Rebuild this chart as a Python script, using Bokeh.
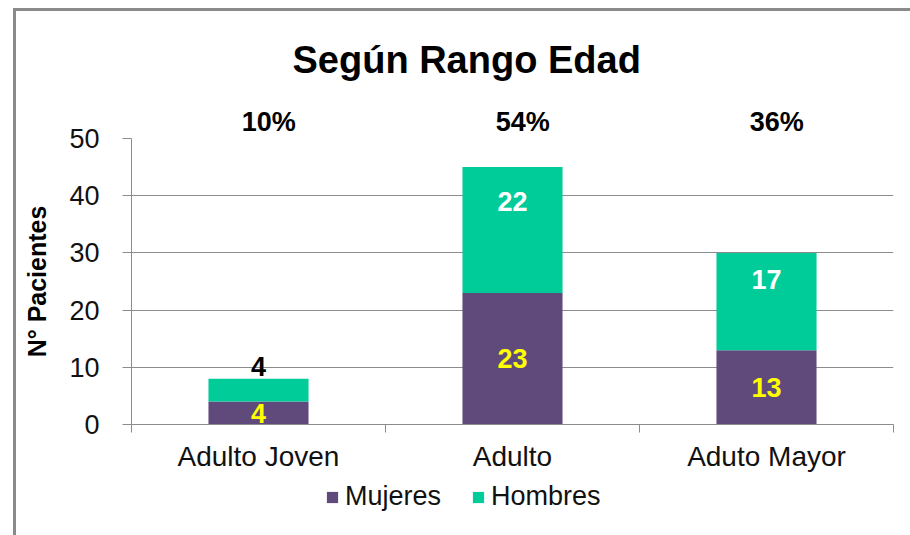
from bokeh.plotting import figure
from bokeh.layouts import column
from bokeh.models import Range1d, FixedTicker, Label, Legend, LegendItem, ColumnDataSource, LinearAxis
from bokeh.embed import file_html
from bokeh.resources import INLINE

# ---- data ----
categories = ["Adulto Joven", "Adulto", "Aduto Mayor"]
mujeres = [4, 23, 13]
hombres = [4, 22, 17]
series_names = ["Mujeres", "Hombres"]
y_ticks = [0, 10, 20, 30, 40, 50]
title_text = "Según Rango Edad"
y_label = "N° Pacientes"

PURPLE = "#604A7B"
GREEN = "#00CC99"
GRID = "#8C8C8C"
FONT = "Liberation Sans"

totals = [m + h for m, h in zip(mujeres, hombres)]
grand = sum(totals)
pct_labels = [f"{round(100 * t / grand)}%" for t in totals]
xs = [i + 0.5 for i in range(len(categories))]

src = ColumnDataSource(dict(x=xs, Mujeres=mujeres, Hombres=hombres))

p = figure(width=894, height=463, x_range=Range1d(0, len(categories)), y_range=Range1d(0, 50),
           output_backend="svg", toolbar_location=None,
           min_border_left=115, min_border_top=127, min_border_right=17, min_border_bottom=50)
p.outline_line_color = None
p.background_fill_color = "white"
p.border_fill_color = "white"

# title
p.title.text = title_text
p.title.align = "left"
p.title.offset = 161
p.title.text_font = FONT
p.title.text_font_size = "38px"
p.title.text_font_style = "bold"
p.title.text_color = "black"
p.title.standoff = 45

rs = p.vbar_stack(series_names, x="x", width=0.394, color=[PURPLE, GREEN], line_color=None, source=src)

# grid
p.xgrid.grid_line_color = None
p.ygrid.grid_line_color = GRID
p.ygrid.ticker = FixedTicker(ticks=y_ticks)

# y axis
ya = p.yaxis[0]
ya.ticker = FixedTicker(ticks=y_ticks)
ya.axis_line_color = GRID
ya.major_tick_line_color = GRID
ya.major_tick_out = 9
ya.major_tick_in = 0
ya.minor_tick_line_color = None
ya.major_label_standoff = 23
ya.major_label_text_font = FONT
ya.major_label_text_font_size = "27px"
ya.major_label_text_color = "#111111"
ya.axis_label = y_label
ya.axis_label_text_font = FONT
ya.axis_label_text_font_size = "25px"
ya.axis_label_text_font_style = "bold"
ya.axis_label_text_color = "black"
ya.axis_label_standoff = 15

# x axis
xa = p.xaxis[0]
xa.ticker = FixedTicker(ticks=xs, minor_ticks=list(range(len(categories) + 1)))
xa.major_label_overrides = {x: c for x, c in zip(xs, categories)}
xa.axis_line_color = GRID
xa.major_tick_line_color = None
xa.major_tick_out = 0
xa.major_tick_in = 0
xa.minor_tick_line_color = GRID
xa.minor_tick_out = 8
xa.minor_tick_in = 0
xa.major_label_standoff = 8
xa.major_label_text_font = FONT
xa.major_label_text_font_size = "28px"
xa.major_label_text_color = "#111111"

# percentage labels as a top axis
pct_ticks = [x + 0.04 for x in xs]
top = LinearAxis(ticker=FixedTicker(ticks=pct_ticks),
                 major_label_overrides={t: s for t, s in zip(pct_ticks, pct_labels)})
top.axis_line_color = None
top.major_tick_line_color = None
top.minor_tick_line_color = None
top.major_tick_out = 0
top.major_tick_in = 0
top.major_label_standoff = 2
top.major_label_text_font = FONT
top.major_label_text_font_size = "27px"
top.major_label_text_font_style = "bold"
top.major_label_text_color = "black"
p.add_layout(top, "above")

# value labels
for x, m, h in zip(xs, mujeres, hombres):
    p.add_layout(Label(x=x, y=m / 2, text=str(m), text_align="center", text_baseline="middle",
                       text_font=FONT, text_font_size="27px", text_font_style="bold",
                       text_color="#FFFF00"))
    if h >= 8:
        p.add_layout(Label(x=x, y=m + 0.73 * h, text=str(h), text_align="center", text_baseline="middle",
                           text_font=FONT, text_font_size="27px", text_font_style="bold",
                           text_color="white"))
    else:
        p.add_layout(Label(x=x, y=m + h + 2.1, text=str(h), text_align="center", text_baseline="middle",
                           text_font=FONT, text_font_size="27px", text_font_style="bold",
                           text_color="black"))

# legend strip (separate figure so the legend is not clipped)
lf = figure(width=894, height=61, x_range=Range1d(0, 1), y_range=Range1d(0, 1),
            x_axis_type=None, y_axis_type=None, output_backend="svg", toolbar_location=None,
            min_border=0, min_border_left=0, min_border_right=0, min_border_top=0, min_border_bottom=0)
lf.outline_line_color = None
lf.background_fill_color = "white"
lf.border_fill_color = "white"
swatch = ColumnDataSource(dict(x=[0.5], top=[-2], bottom=[-3]))
lrs = [lf.vbar(x="x", top="top", bottom="bottom", width=0.1, color=c, line_color=None,
               source=swatch, visible=False)
       for c in [PURPLE, GREEN]]
legend = Legend(items=[LegendItem(label=n, renderers=[r]) for n, r in zip(series_names, lrs)],
                orientation="horizontal", location=(194, 23), border_line_color=None,
                background_fill_alpha=0, label_text_font=FONT, label_text_font_size="27px",
                label_text_color="#111111", glyph_width=14, glyph_height=14, spacing=30,
                label_standoff=6, padding=0, margin=0)
lf.add_layout(legend)

layout = column(p, lf, spacing=0,
                styles={"border-left": "3px solid #8A8A8A", "border-top": "3px solid #8A8A8A",
                        "margin-left": "13px", "margin-top": "8px"})

open("out.html", "w").write(file_html(layout, INLINE))
